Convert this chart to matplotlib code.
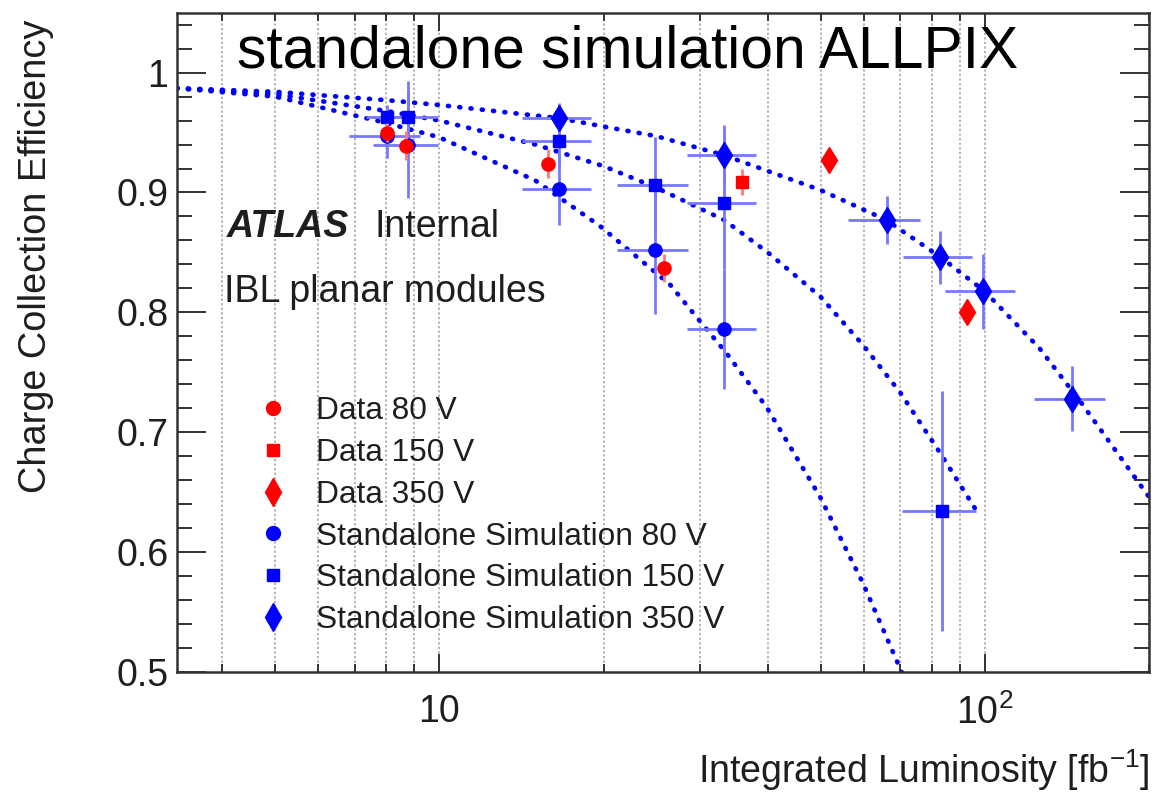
import matplotlib
matplotlib.use("Agg")
import matplotlib.pyplot as plt
from matplotlib.lines import Line2D
from matplotlib.ticker import FixedLocator, NullFormatter, MultipleLocator

plt.rcParams["font.family"] = ["Liberation Sans", "DejaVu Sans"]
plt.rcParams["mathtext.fontset"] = "custom"
plt.rcParams["mathtext.rm"] = "Liberation Sans"

# measured data (red)
data80_x = [8.03, 8.70, 15.8, 25.8]
data80_y = [0.950, 0.939, 0.924, 0.837]
data80_err = [0.008, 0.012, 0.012, 0.012]

data150_x = [35.9]
data150_y = [0.909]
data150_err = [0.011]

data350_x = [51.7, 92.7]
data350_y = [0.927, 0.800]

# standalone simulation (blue)
sim80_x = [8.03, 8.75, 16.6, 24.9, 33.3]
sim80_y = [0.947, 0.940, 0.903, 0.852, 0.786]
sim80_xerr = [1.2, 1.2, 2.4, 3.7, 4.8]
sim80_yerr = [0.018, 0.045, 0.030, 0.053, 0.050]

sim150_x = [8.03, 8.75, 16.6, 24.9, 33.3, 83.5]
sim150_y = [0.963, 0.963, 0.943, 0.906, 0.891, 0.634]
sim150_xerr = [0.7, 1.2, 2.4, 3.7, 4.8, 13.0]
sim150_yerr = [0.010, 0.030, 0.020, 0.040, 0.055, 0.100]

sim350_x = [16.6, 33.3, 66.2, 82.8, 99.2, 144.5]
sim350_y = [0.962, 0.931, 0.877, 0.846, 0.8175, 0.728]
sim350_xerr = [2.4, 4.8, 10.0, 12.0, 14.5, 21.5]
sim350_yerr = [0.013, 0.025, 0.020, 0.022, 0.031, 0.027]

# fitted curves (dotted)
fit80_x = [3.3, 5, 8, 10, 15, 19.7, 26.5, 30, 33.6, 39.8, 49.9, 59.8, 70.4]
fit80_y = [0.987, 0.980, 0.958, 0.946, 0.910, 0.872, 0.823, 0.793, 0.766, 0.721, 0.646, 0.574, 0.500]

fit150_x = [3.3, 5, 8, 10, 15, 20, 25, 33.3, 40, 50, 60, 70, 83, 97]
fit150_y = [0.987, 0.982, 0.968, 0.960, 0.940, 0.922, 0.904, 0.877, 0.850, 0.813, 0.772, 0.733, 0.682, 0.633]

fit350_x = [3.3, 5, 8, 10, 16.6, 20, 25, 33.3, 50, 66, 83, 100, 126, 150, 200]
fit350_y = [0.987, 0.984, 0.977, 0.973, 0.962, 0.955, 0.947, 0.931, 0.902, 0.877, 0.846, 0.8175, 0.770, 0.725, 0.646]

legend_labels = ["Data 80 V", "Data 150 V", "Data 350 V",
                 "Standalone Simulation 80 V", "Standalone Simulation 150 V",
                 "Standalone Simulation 350 V"]

x_major = [10, 100]
x_major_labels = ["10", r"$\mathregular{10^{2}}$"]
x_minor = [4, 5, 6, 7, 8, 9, 20, 30, 40, 50, 60, 70, 80, 90, 200]
y_major = [0.5, 0.6, 0.7, 0.8, 0.9, 1.0]
y_major_labels = ["0.5", "0.6", "0.7", "0.8", "0.9", "1"]

TXT = "#1e1e1e"
BLUE = "#0000ff"
RED = "#ff0000"
EBLUE = "#7878ff"
ERED = "#ff7a7a"

fig = plt.figure(figsize=(11.57, 7.92), dpi=100)
ax = fig.add_axes([0.1527, 0.1515, 0.8404, 0.8325])
ax.set_xscale("log")
ax.set_xlim(3.3, 200)
ax.set_ylim(0.5, 1.05)

# grid: vertical dotted only
ax.xaxis.set_major_locator(FixedLocator(x_major))
ax.xaxis.set_minor_locator(FixedLocator(x_minor))
ax.xaxis.set_minor_formatter(NullFormatter())
ax.set_xticklabels(x_major_labels)
ax.set_yticks(y_major)
ax.set_yticklabels(y_major_labels)
ax.yaxis.set_minor_locator(MultipleLocator(0.02))
ax.grid(True, which="both", axis="x", color="#a0a0a0",
        linestyle=(0, (1.5, 1.5)), linewidth=1.1, zorder=0)
ax.set_axisbelow(True)

dot = dict(color=BLUE, linewidth=3.4, linestyle=(0, (0.2, 2.2)),
           dash_capstyle="round", zorder=2)
ax.plot(fit80_x, fit80_y, **dot)
ax.plot(fit150_x, fit150_y, **dot)
ax.plot(fit350_x, fit350_y, **dot)

eb = dict(ls="none", ecolor=EBLUE, elinewidth=2.0, capsize=0, zorder=3)
ax.errorbar(sim80_x, sim80_y, xerr=sim80_xerr, yerr=sim80_yerr,
            marker="o", ms=9.5, mfc=BLUE, mec=BLUE, **eb)
ax.errorbar(sim150_x, sim150_y, xerr=sim150_xerr, yerr=sim150_yerr,
            marker="s", ms=9, mfc=BLUE, mec=BLUE, **eb)
ax.errorbar(sim350_x, sim350_y, xerr=sim350_xerr, yerr=sim350_yerr,
            marker="d", ms=13.5, mfc=BLUE, mec=BLUE, **eb)

ebr = dict(ls="none", ecolor=ERED, elinewidth=2.0, capsize=0, zorder=4)
ax.errorbar(data80_x, data80_y, yerr=data80_err,
            marker="o", ms=9.5, mfc=RED, mec=RED, **ebr)
ax.errorbar(data150_x, data150_y, yerr=data150_err,
            marker="s", ms=9, mfc=RED, mec=RED, **ebr)
ax.plot(data350_x, data350_y, ls="none", marker="d", ms=13.5,
        mfc=RED, mec=RED, zorder=4)

# ROOT-like frame and ticks
for s in ax.spines.values():
    s.set_linewidth(1.8)
    s.set_color("#333333")
ax.tick_params(axis="both", which="both", direction="in", top=True,
               right=True, color="#333333", width=1.4)
ax.tick_params(axis="x", which="major", length=13, labelsize=27,
               pad=16, labelcolor=TXT)
ax.tick_params(axis="x", which="minor", length=6)
ax.tick_params(axis="y", which="major", length=21, labelsize=27,
               pad=6, labelcolor=TXT)
ax.tick_params(axis="y", which="minor", length=11)

# legend (markers only)
handles = [
    Line2D([], [], ls="none", marker="o", ms=10, color=RED),
    Line2D([], [], ls="none", marker="s", ms=9, color=RED),
    Line2D([], [], ls="none", marker="d", ms=14, color=RED),
    Line2D([], [], ls="none", marker="o", ms=10, color=BLUE),
    Line2D([], [], ls="none", marker="s", ms=9, color=BLUE),
    Line2D([], [], ls="none", marker="d", ms=14, color=BLUE),
]
leg = ax.legend(handles, legend_labels, loc="upper left",
                bbox_to_anchor=(0.0825, 0.418), frameon=False,
                fontsize=22.8, handlelength=1.0, handletextpad=0.88,
                labelspacing=0.37, borderpad=0, borderaxespad=0)
for t in leg.get_texts():
    t.set_color(TXT)

# annotations
fig.text(226.7 / 1157, 1 - 237 / 792, "ATLAS", fontsize=27,
         fontweight="bold", fontstyle="italic", color=TXT, va="baseline")
fig.text(375 / 1157, 1 - 237 / 792, "Internal", fontsize=27,
         color=TXT, va="baseline")
fig.text(224 / 1157, 1 - 302 / 792, "IBL planar modules", fontsize=27,
         color=TXT, va="baseline")
fig.text(237 / 1157, 1 - 67 / 792, "standalone simulation ALLPIX",
         fontsize=42.3, color="black", va="baseline")

# axis titles, ROOT style aligned to the axis ends
fig.text(1150 / 1157, 1 - 783 / 792,
         r"Integrated Luminosity [fb$^{\mathregular{-1}}$]",
         fontsize=27, color=TXT, ha="right", va="baseline")
fig.text(36 / 1157, 1 - 20 / 792, "Charge Collection Efficiency",
         fontsize=27.3, color=TXT, rotation=90, ha="center", va="top")

fig.savefig("out.png", dpi=100)
